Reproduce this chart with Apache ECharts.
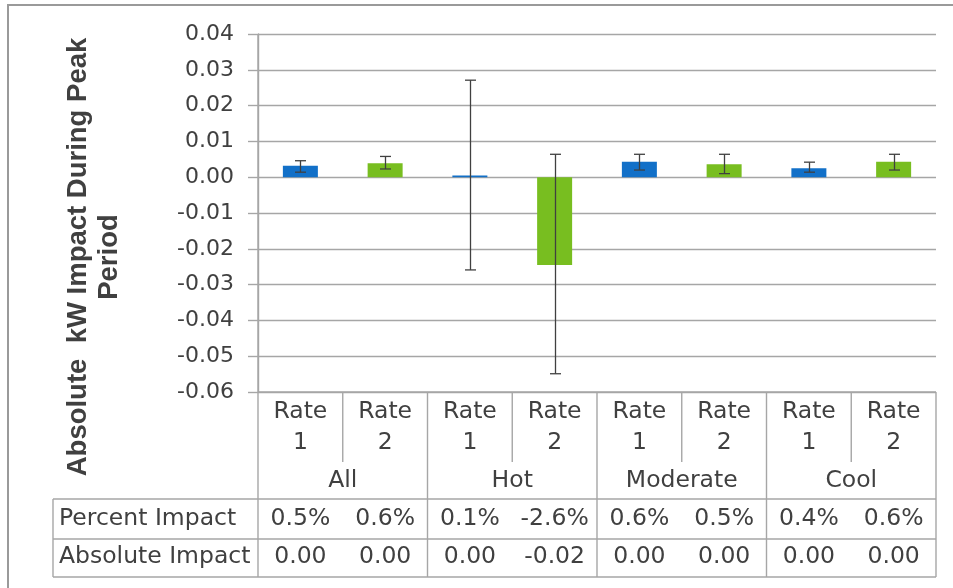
<!DOCTYPE html>
<html>
<head>
<meta charset="utf-8">
<script src="https://cdn.jsdelivr.net/npm/echarts@6/dist/echarts.min.js"></script>
<style>html,body{margin:0;padding:0;background:#fff}#c{width:953px;height:588px}</style>
</head>
<body>
<div id="c"></div>
<script>
var groups = ['All', 'Hot', 'Moderate', 'Cool'];
var rates = ['Rate\n1', 'Rate\n2', 'Rate\n1', 'Rate\n2', 'Rate\n1', 'Rate\n2', 'Rate\n1', 'Rate\n2'];
var categories = ['All R1', 'All R2', 'Hot R1', 'Hot R2', 'Moderate R1', 'Moderate R2', 'Cool R1', 'Cool R2'];
var impact = [0.0032, 0.0039, 0.0005, -0.0245, 0.0043, 0.0036, 0.0025, 0.0043];
var errHigh = [0.0046, 0.0058, 0.0271, 0.0064, 0.0064, 0.0064, 0.0042, 0.0064];
var errLow = [0.0014, 0.0023, -0.0259, -0.0549, 0.0020, 0.0010, 0.0014, 0.0020];
var percentImpact = ['0.5%', '0.6%', '0.1%', '-2.6%', '0.6%', '0.5%', '0.4%', '0.6%'];
var absoluteImpact = ['0.00', '0.00', '0.00', '-0.02', '0.00', '0.00', '0.00', '0.00'];
var rowLabels = ['Percent Impact', 'Absolute Impact'];
var yTicks = [-0.06, 0.04, 0.01];
var rateColors = ['#1270C8', '#78BE20'];

var FONT = '"DejaVu Sans", sans-serif';
var TFONT = '"Liberation Sans", Arial, sans-serif';
var TXT = '#404040';
var LINE = '#A6A6A6';

var chart = echarts.init(document.getElementById('c'), null, {renderer: 'canvas'});
chart.setOption({
  animation: false,
  backgroundColor: '#fff',
  grid: {left: 258, right: 17, top: 34, bottom: 196, containLabel: false},
  xAxis: {
    type: 'category', data: categories,
    axisLine: {show: false}, axisTick: {show: false}, axisLabel: {show: false}, splitLine: {show: false}
  },
  yAxis: {
    type: 'value', min: yTicks[0], max: yTicks[1], interval: yTicks[2],
    axisLine: {show: true, lineStyle: {color: LINE, width: 1.4}},
    axisTick: {show: true, length: 10, lineStyle: {color: LINE, width: 1.4}},
    axisLabel: {fontFamily: FONT, fontSize: 22, color: TXT, margin: 24,
      formatter: function (v) { return v.toFixed(2); }},
    splitLine: {show: true, lineStyle: {color: LINE, width: 1.4}}
  },
  series: [{
    type: 'bar', barWidth: 35,
    data: impact.map(function (v, i) { return {value: v, itemStyle: {color: rateColors[i % 2]}}; }),
    z: 2
  }, {
    type: 'custom', z: 3,
    data: categories.map(function (c, i) { return [i, errLow[i], errHigh[i]]; }),
    renderItem: function (params, api) {
      var lo = api.coord([api.value(0), api.value(1)]);
      var hi = api.coord([api.value(0), api.value(2)]);
      var x = Math.round(lo[0]) + 0.5, hw = 5.5;
      var st = {stroke: '#404040', lineWidth: 1.3};
      return {type: 'group', children: [
        {type: 'line', shape: {x1: x, y1: hi[1], x2: x, y2: lo[1]}, style: st},
        {type: 'line', shape: {x1: x - hw, y1: hi[1], x2: x + hw, y2: hi[1]}, style: st},
        {type: 'line', shape: {x1: x - hw, y1: lo[1], x2: x + hw, y2: lo[1]}, style: st}
      ]};
    }
  }]
});

// Build table under the plot
var n = categories.length;
var c0 = chart.convertToPixel({xAxisIndex: 0}, 0);
var c1 = chart.convertToPixel({xAxisIndex: 0}, 1);
var step = c1 - c0;
var left = c0 - step / 2;
var right = left + step * n;
var yTop = chart.convertToPixel({yAxisIndex: 0}, yTicks[0]);
var yRateBottom = 462, yGroup = 499, yRow2 = 539, yBottom = 577, tableLeft = 53;
var g = [];
function ln(x1, y1, x2, y2) {
  g.push({type: 'line', shape: {x1: x1, y1: y1, x2: x2, y2: y2}, style: {stroke: LINE, lineWidth: 1.4}, silent: true});
}
function tx(t, x, y, opt) {
  g.push({type: 'text', x: x, y: y, silent: true, style: Object.assign({text: t, fill: TXT, font: '23.5px ' + FONT,
    textAlign: 'center', textVerticalAlign: 'middle'}, opt || {})});
}
for (var i = 0; i <= n; i++) {
  var x = left + step * i;
  if (i % 2 === 0) ln(x, i === 0 ? 34 : yTop, x, yBottom);
  else ln(x, yTop, x, yRateBottom);
}
ln(left, yTop, right, yTop);
ln(tableLeft, yGroup, right, yGroup);
ln(tableLeft, yRow2, right, yRow2);
ln(tableLeft, yBottom, right, yBottom);
ln(tableLeft, yGroup, tableLeft, yBottom);
for (var i = 0; i < n; i++) {
  var cx = left + step * (i + 0.5);
  tx(rates[i], cx, 427, {lineHeight: 31});
  tx(percentImpact[i], cx, 519);
  tx(absoluteImpact[i], cx, 557);
}
for (var k = 0; k < groups.length; k++) {
  tx(groups[k], left + step * (2 * k + 1), 481);
}
tx(rowLabels[0], 59, 519, {textAlign: 'left'});
tx(rowLabels[1], 59, 557, {textAlign: 'left'});
g.push({type: 'text', x: 94, y: 257, rotation: Math.PI / 2, silent: true,
  style: {text: 'Absolute  kW Impact During Peak\nPeriod', fill: TXT, font: 'bold 27.5px ' + TFONT,
    textAlign: 'center', textVerticalAlign: 'middle', lineHeight: 31}});
g.push({type: 'rect', shape: {x: 8, y: 5, width: 980, height: 620}, silent: true,
  style: {fill: 'none', stroke: '#9A9A9A', lineWidth: 2}});
chart.setOption({graphic: g});
</script>
</body>
</html>
